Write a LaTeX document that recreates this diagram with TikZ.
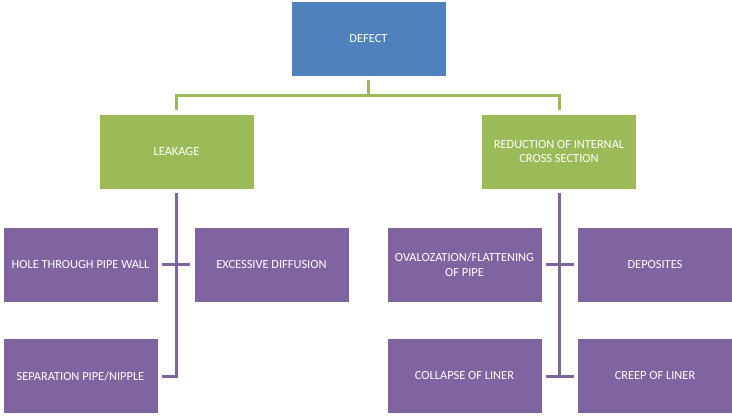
\documentclass[tikz,border=0pt]{standalone}
\usepackage{fontspec}
\setmainfont{Carlito}
\definecolor{defblue}{HTML}{4F81BD}
\definecolor{defgreen}{HTML}{9BBB59}
\definecolor{defpurple}{HTML}{8064A2}
\begin{document}
\begin{tikzpicture}[x=1pt,y=-1pt]
\tikzstyle{every node}+=[inner sep=0pt]
\tikzstyle{box}=[rectangle,draw=white,line width=0.4pt,minimum width=155pt,minimum height=75pt,
  text=white,align=center,font=\fontsize{12.4}{14.5}\selectfont]
\tikzstyle{topbox}=[box,fill=defblue]
\tikzstyle{midbox}=[box,fill=defgreen]
\tikzstyle{lowbox}=[box,fill=defpurple]
\tikzstyle{greenline}=[defgreen,line width=3pt,shorten <=3pt,shorten >=3.5pt]
\tikzstyle{purpleline}=[defpurple,line width=3pt,shorten <=3.5pt,shorten >=3.5pt]
\useasboundingbox (0,0) rectangle (732,418);
\node[topbox] (defect) at (368.5,39) {DEFECT};
\node[midbox] (leakage) at (176.5,151.5) {LEAKAGE};
\node[midbox] (reduction) at (559,151.5) {REDUCTION OF INTERNAL\\CROSS SECTION};
\node[lowbox] (hole) at (80.5,264.5) {HOLE THROUGH PIPE WALL};
\node[lowbox] (diffusion) at (271.5,264.5) {EXCESSIVE DIFFUSION};
\node[lowbox] (separation) at (80.5,376) {SEPARATION PIPE/NIPPLE};
\node[lowbox] (ovalization) at (464.5,264.5) {OVALOZATION/FLATTENING\\OF PIPE};
\node[lowbox] (deposites) at (655,264.5) {DEPOSITES};
\node[lowbox] (collapse) at (464.5,376) {COLLAPSE OF LINER};
\node[lowbox] (creep) at (655,376) {CREEP OF LINER};
\coordinate (tee) at ([yshift=-1.5pt]reduction.south |- collapse.east);
\draw[greenline] (defect.south) -- (defect.south |- 0,95) -| (leakage.north);
\draw[greenline] (defect.south) -- (defect.south |- 0,95) -| (reduction.north);
\draw[purpleline,line join=miter] (leakage.south) |- (separation.east);
\draw[purpleline] (hole.east) -- (diffusion.west);
\draw[defpurple,line width=3pt,shorten <=3.5pt] (reduction.south) -- (tee);
\draw[purpleline] (ovalization.east) -- (deposites.west);
\draw[purpleline] (collapse.east) -- (creep.west);
\end{tikzpicture}
\end{document}
